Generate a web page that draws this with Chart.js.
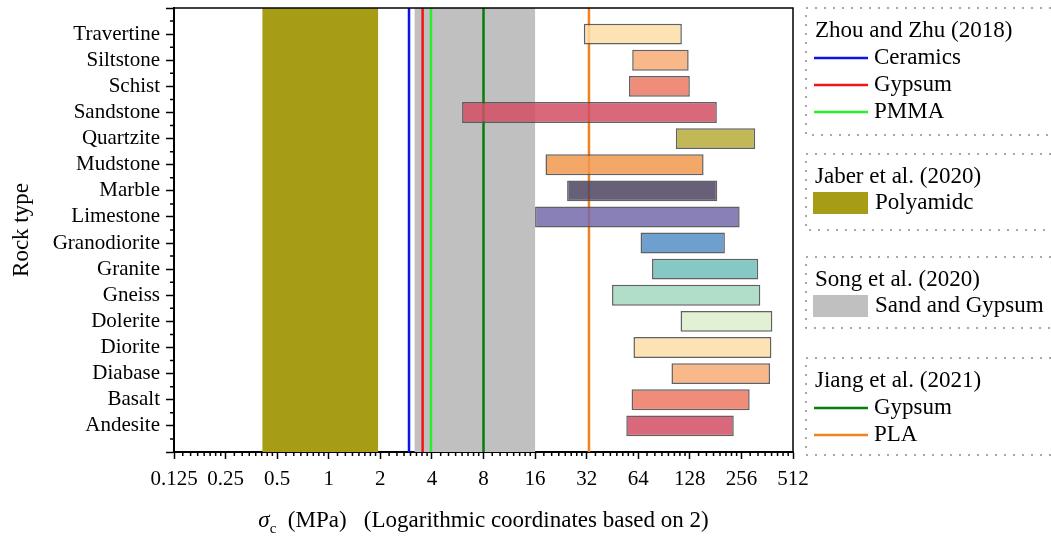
<!DOCTYPE html>
<html>
<head>
<meta charset="utf-8">
<script src="https://cdn.jsdelivr.net/npm/chart.js@4"></script>
<style>
  html, body { margin: 0; padding: 0; background: #fff; }
  #wrap { width: 1051px; height: 536px; }
</style>
</head>
<body>
<div id="wrap"><canvas id="chart" width="1051" height="536"></canvas></div>
<script>
// Rock types, top to bottom
const rockTypes = ['Travertine', 'Siltstone', 'Schist', 'Sandstone', 'Quartzite', 'Mudstone', 'Marble', 'Limestone',
    'Granodiorite', 'Granite', 'Gneiss', 'Dolerite', 'Diorite', 'Diabase', 'Basalt', 'Andesite'];
// UCS range of each rock type (MPa)
const ucsMin = [30.8, 59, 56.5, 6, 106, 18.4, 24.6, 16, 66, 77, 45, 113, 60, 100, 58.5, 54.5];
const ucsMax = [115, 126, 128, 184, 308, 154, 185, 250, 205, 321, 330, 388, 383, 376, 286, 231];
// colours as they look on white
const rockColors = ['#fde2b4', '#f8b88a', '#f08c7a', '#da687b', '#c2b857', '#f4a868', '#686079', '#8a80b8',
    '#6ea0ce', '#86c8c4', '#b0dec8', '#e2f0d4', '#fde2b4', '#f8b88a', '#f08c7a', '#da687b'];

// x axis ticks (log base 2)
const xTicks = [0.125, 0.25, 0.5, 1, 2, 4, 8, 16, 32, 64, 128, 256, 512];

// shaded ranges of the analogue materials
const bandLabels = ['Polyamidc', 'Sand and Gypsum'];
const bandFrom = [0.41, 3.17];
const bandTo = [1.94, 16];
const bandColors = ['#a69c16', '#c0c0c0'];

// single strength values of the analogue materials
const lineLabels = ['Ceramics', 'Gypsum', 'PMMA', 'Gypsum', 'PLA'];
const lineValues = [2.94, 3.53, 3.95, 8, 33];
const lineColors = ['#0a14e6', '#f01414', '#28f028', '#0a7d0a', '#f2821e'];

// legend groups: title, kind, index into the arrays above
const legendGroups = [
    { title: 'Zhou and Zhu (2018)', items: [['line', 0], ['line', 1], ['line', 2]] },
    { title: 'Jaber et al. (2020)', items: [['band', 0]] },
    { title: 'Song et al. (2020)', items: [['band', 1]] },
    { title: 'Jiang et al. (2021)', items: [['line', 3], ['line', 4]] }
];

const serif = "'Liberation Serif', 'Times New Roman', serif";
const ALPHA = 0.85;

// semi-transparent colour that gives the same shade over white
function seeThrough(hex) {
    const n = parseInt(hex.slice(1), 16);
    const ch = [(n >> 16) & 255, (n >> 8) & 255, n & 255].map(c => Math.max(0, Math.round((c - (1 - ALPHA) * 255) / ALPHA)));
    return `rgba(${ch[0]}, ${ch[1]}, ${ch[2]}, ${ALPHA})`;
}

// blank slot above and below the rocks
const yLabels = [''].concat(rockTypes, ['']);
const barData = [null].concat(rockTypes.map((r, i) => [ucsMin[i], ucsMax[i]]), [null]);
const barFill = ['#fff'].concat(rockColors.map(seeThrough), ['#fff']);

// bands and reference lines under the bars
const backgroundPlugin = {
    id: 'background',
    beforeDatasetsDraw(chart) {
        const { ctx, chartArea: a, scales: { x } } = chart;
        ctx.save();
        bandLabels.forEach((b, i) => {
            const x0 = x.getPixelForValue(bandFrom[i]);
            const x1 = x.getPixelForValue(bandTo[i]);
            ctx.fillStyle = bandColors[i];
            ctx.fillRect(x0, a.top, x1 - x0, a.bottom - a.top);
        });
        lineValues.forEach((v, i) => {
            const px = x.getPixelForValue(v);
            ctx.strokeStyle = lineColors[i];
            ctx.lineWidth = 2.5;
            ctx.beginPath();
            ctx.moveTo(px, a.top);
            ctx.lineTo(px, a.bottom);
            ctx.stroke();
        });
        ctx.restore();
    }
};

// frame, minor ticks, axis title and the legend boxes
const decorPlugin = {
    id: 'decor',
    afterDraw(chart) {
        const { ctx, chartArea: a, scales: { x, y } } = chart;
        ctx.save();
        ctx.strokeStyle = '#000';
        ctx.lineWidth = 1.5;
        ctx.beginPath();
        ctx.moveTo(a.left, a.top);
        ctx.lineTo(a.right, a.top);
        ctx.lineTo(a.right, a.bottom);
        ctx.stroke();

        // minor ticks
        ctx.lineWidth = 1.5;
        ctx.beginPath();
        for (let i = 0; i < xTicks.length - 1; i++) {
            for (let k = 1; k < 8; k++) {
                const px = x.getPixelForValue(xTicks[i] * (1 + k / 8));
                ctx.moveTo(px, a.bottom);
                ctx.lineTo(px, a.bottom + 4);
            }
        }
        for (let i = 0; i < yLabels.length - 1; i++) {
            const py = y.getPixelForValue(i + 0.5);
            ctx.moveTo(a.left, py);
            ctx.lineTo(a.left - 4, py);
        }
        ctx.stroke();

        // x axis title with italic sigma and subscript
        const bigFont = `23px ${serif}`;
        const parts = [
            { t: 'σ', f: `italic 23px ${serif}`, dy: 0 },
            { t: 'c', f: `15px ${serif}`, dy: 6 },
            { t: '  (MPa)   (Logarithmic coordinates based on 2)', f: bigFont, dy: 0 }
        ];
        let total = 0;
        parts.forEach(p => { ctx.font = p.f; p.w = ctx.measureText(p.t).width; total += p.w; });
        let tx = (a.left + a.right) / 2 - total / 2;
        ctx.fillStyle = '#000';
        ctx.textBaseline = 'alphabetic';
        ctx.textAlign = 'left';
        parts.forEach(p => {
            ctx.font = p.f;
            ctx.fillText(p.t, tx, 527 + p.dy);
            tx += p.w;
        });

        // legend
        const boxTops = [8, 154, 257, 358];
        const boxBottoms = [135, 230, 328, 455];
        const boxLeft = 806;
        ctx.strokeStyle = '#8a8a8a';
        ctx.lineWidth = 1.5;
        ctx.setLineDash([2, 7]);
        boxTops.forEach((t, i) => {
            ctx.beginPath();
            ctx.moveTo(1060, t);
            ctx.lineTo(boxLeft, t);
            ctx.lineTo(boxLeft, boxBottoms[i]);
            ctx.lineTo(1060, boxBottoms[i]);
            ctx.stroke();
        });
        ctx.setLineDash([]);

        const rowGap = 27;
        ctx.font = `23px ${serif}`;
        ctx.textBaseline = 'middle';
        legendGroups.forEach((g, gi) => {
            let ry = boxTops[gi] + 23;
            ctx.fillStyle = '#000';
            ctx.fillText(g.title, 815, ry);
            g.items.forEach(([kind, idx]) => {
                ry += (kind === 'band') ? 26 : rowGap;
                if (kind === 'line') {
                    ctx.strokeStyle = lineColors[idx];
                    ctx.lineWidth = 2.5;
                    ctx.beginPath();
                    ctx.moveTo(814, ry);
                    ctx.lineTo(868, ry);
                    ctx.stroke();
                    ctx.fillStyle = '#000';
                    ctx.fillText(lineLabels[idx], 874, ry);
                } else {
                    ctx.fillStyle = bandColors[idx];
                    ctx.fillRect(813, ry - 11, 55, 22);
                    ctx.fillStyle = '#000';
                    ctx.fillText(bandLabels[idx], 875, ry);
                }
            });
        });
        ctx.restore();
    }
};

new Chart(document.getElementById('chart'), {
    type: 'bar',
    data: {
        labels: yLabels,
        datasets: [{
            data: barData,
            backgroundColor: barFill,
            borderColor: 'rgba(80, 80, 80, 0.9)',
            borderWidth: 1.5,
            borderSkipped: false,
            barPercentage: 0.8,
            categoryPercentage: 1
        }]
    },
    options: {
        indexAxis: 'y',
        responsive: false,
        animation: false,
        layout: { padding: { top: 8, right: 258, bottom: 0, left: 0 } },
        plugins: {
            legend: { display: false },
            tooltip: { enabled: false }
        },
        scales: {
            x: {
                type: 'logarithmic',
                min: 0.125,
                max: 512,
                afterBuildTicks: (s) => { s.ticks = xTicks.map(v => ({ value: v })); },
                afterFit: (s) => { s.height = 84; },
                grid: { drawOnChartArea: false, tickLength: 7, tickColor: '#000', tickWidth: 1.5 },
                border: { color: '#000', width: 2 },
                ticks: {
                    autoSkip: false,
                    maxRotation: 0,
                    padding: 8,
                    color: '#000',
                    font: { family: serif, size: 21 },
                    callback: (v) => String(v)
                }
            },
            y: {
                type: 'category',
                offset: false,
                afterFit: (s) => { s.width = 174; s.paddingTop = 0; s.paddingBottom = 0; },
                grid: { offset: false, drawOnChartArea: false, tickLength: 8, tickColor: '#000', tickWidth: 1.5 },
                border: { color: '#000', width: 2 },
                ticks: {
                    autoSkip: false,
                    padding: 6,
                    color: '#000',
                    font: { family: serif, size: 21 }
                },
                title: {
                    display: true,
                    text: 'Rock type',
                    color: '#000',
                    font: { family: serif, size: 23 },
                    padding: { top: 8, bottom: 0 }
                }
            }
        }
    },
    plugins: [backgroundPlugin, decorPlugin]
});
</script>
</body>
</html>
